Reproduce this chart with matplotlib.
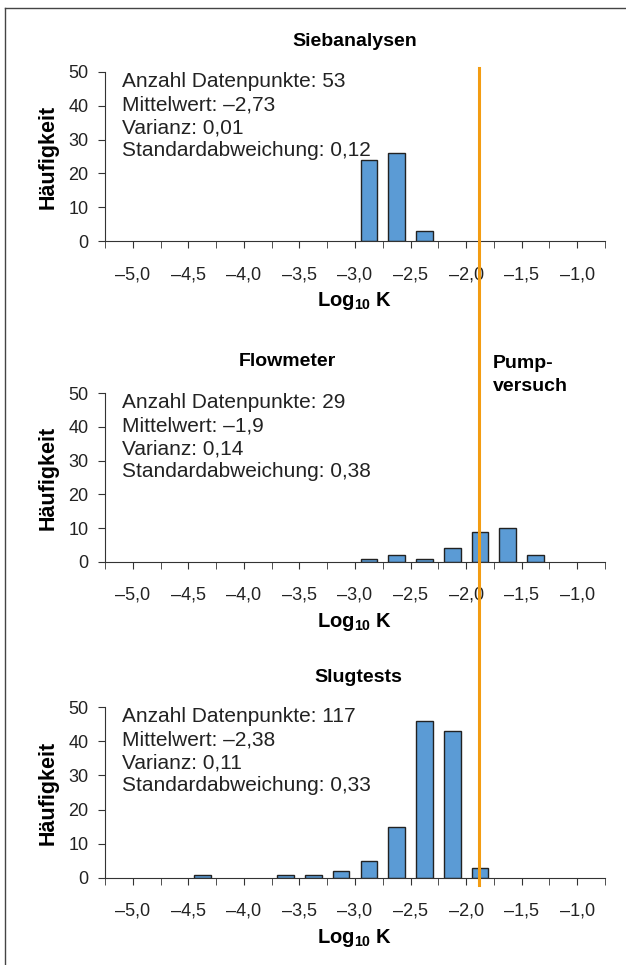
import matplotlib
matplotlib.use('Agg')
import matplotlib.pyplot as plt
from matplotlib.lines import Line2D
from matplotlib.transforms import blended_transform_factory

plt.rcParams['font.family'] = ['Liberation Sans', 'DejaVu Sans']
plt.rcParams['mathtext.fontset'] = 'custom'
plt.rcParams['mathtext.rm'] = 'Liberation Sans'
plt.rcParams['mathtext.bf'] = 'Liberation Sans:bold'

# Data (bin centres of log10 K classes, 0.25 wide)
sieb_x = [-2.875, -2.625, -2.375]
sieb_n = [24, 26, 3]
flow_x = [-2.875, -2.625, -2.375, -2.125, -1.875, -1.625, -1.375]
flow_n = [1, 2, 1, 4, 9, 10, 2]
slug_x = [-4.375, -3.625, -3.375, -3.125, -2.875, -2.625, -2.375, -2.125, -1.875]
slug_n = [1, 1, 1, 2, 5, 15, 46, 43, 3]
pump_k = -1.88

titles = ['Siebanalysen', 'Flowmeter', 'Slugtests']
stats = [
    ['Anzahl Datenpunkte: 53', 'Mittelwert: –2,73', 'Varianz: 0,01', 'Standardabweichung: 0,12'],
    ['Anzahl Datenpunkte: 29', 'Mittelwert: –1,9', 'Varianz: 0,14', 'Standardabweichung: 0,38'],
    ['Anzahl Datenpunkte: 117', 'Mittelwert: –2,38', 'Varianz: 0,11', 'Standardabweichung: 0,33'],
]
xtick_vals = [-5.0, -4.5, -4.0, -3.5, -3.0, -2.5, -2.0, -1.5, -1.0]
xtick_labels = ['–5,0', '–4,5', '–4,0', '–3,5', '–3,0', '–2,5', '–2,0', '–1,5', '–1,0']
ytick_vals = [0, 10, 20, 30, 40, 50]

W, H = 626, 965
fig = plt.figure(figsize=(W / 100, H / 100), dpi=100)

# axes boxes in pixels: (y of 50, y of 0)
boxes = [(72, 241), (393, 562), (707, 878)]
data = [(sieb_x, sieb_n), (flow_x, flow_n), (slug_x, slug_n)]
axes = []
for (ytop, ybot), (xs, ns), title, st in zip(boxes, data, titles, stats):
    ax = fig.add_axes([105 / W, 1 - ybot / H, 500 / W, (ybot - ytop) / H])
    ax.bar(xs, ns, width=0.15, color='#5b9bd5', edgecolor='#222222', linewidth=1, zorder=2)
    ax.set_xlim(-5.25, -0.75)
    ax.set_ylim(0, 50)
    ax.set_xticks(xtick_vals)
    ax.set_xticklabels(xtick_labels)
    ax.set_xticks([-5.25 + 0.25 * i for i in range(19)], minor=True)
    ax.tick_params(axis='x', which='both', direction='out', length=5, color='#333333',
                   labelsize=13, pad=13, labelcolor='#222222')
    ax.set_yticks(ytick_vals)
    ax.tick_params(axis='y', direction='out', length=5, labelsize=13, color='#333333',
                   labelcolor='#222222', pad=7)
    for s in ['top', 'right']:
        ax.spines[s].set_visible(False)
    for s in ['left', 'bottom']:
        ax.spines[s].set_color('#333333')
    ax.set_ylabel('Häufigkeit', fontsize=15.5, fontweight='bold', labelpad=7)
    ax.set_xlabel('Log$_{\\mathbf{10}}$ K', fontsize=14.5, fontweight='bold', labelpad=5)
    ax.text(0.034, 1.0, '\n'.join(st), transform=ax.transAxes, fontsize=15,
            va='top', ha='left', linespacing=1.27, color='#222222')
    axes.append(ax)

# titles
fig.text(355 / W, 1 - 42 / H, titles[0], fontsize=14, fontweight='bold', ha='center', va='center')
fig.text(287 / W, 1 - 361 / H, titles[1], fontsize=14, fontweight='bold', ha='center', va='center')
fig.text(493 / W, 1 - 375 / H, 'Pump-\nversuch', fontsize=14, fontweight='bold', ha='left', va='center',
         linespacing=1.45)
fig.text(358 / W, 1 - 678 / H, titles[2], fontsize=14, fontweight='bold', ha='center', va='center')

# Pumpversuch reference line across all panels
trans = blended_transform_factory(axes[0].transData, fig.transFigure)
fig.add_artist(Line2D([pump_k, pump_k], [1 - 68 / H, 1 - 885 / H], transform=trans,
                      color='#f39c12', linewidth=2.2, zorder=5))

# frame (left and top)
fig.add_artist(Line2D([5 / W, 5 / W], [0, 1 - 8 / H], transform=fig.transFigure, color='#444444', linewidth=1))
fig.add_artist(Line2D([5 / W, 1], [1 - 8 / H, 1 - 8 / H], transform=fig.transFigure, color='#444444', linewidth=1))

fig.savefig('out.png', dpi=100)
